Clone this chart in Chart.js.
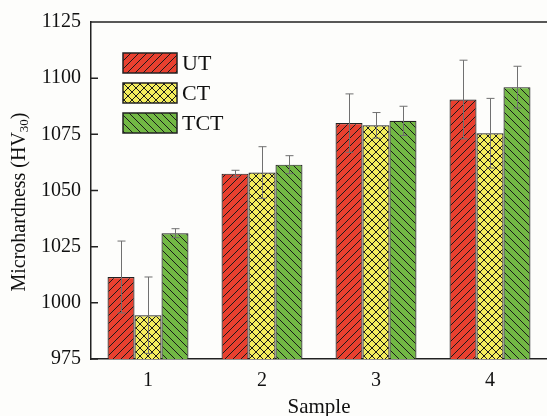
<!DOCTYPE html>
<html>
<head>
<meta charset="utf-8">
<script src="https://cdn.jsdelivr.net/npm/chart.js@4.4.0/dist/chart.umd.min.js"></script>
<style>
  html, body { margin: 0; padding: 0; background: #fdfdfb; }
  #wrap { width: 547px; height: 416px; position: relative; }
</style>
</head>
<body>
<div id="wrap"><canvas id="chart" width="547" height="416"></canvas></div>
<script>
const categories = ['1', '2', '3', '4'];
const seriesNames = ['UT', 'CT', 'TCT'];
const utValues = [1011.5, 1057.5, 1080, 1090.5];
const ctValues = [994.5, 1058, 1079, 1075.5];
const tctValues = [1031, 1061.5, 1081, 1096];
const utErrors = [16, 1.5, 13, 17.5];
const ctErrors = [17, 11.5, 5.7, 15.5];
const tctErrors = [2, 4, 6.5, 9.3];
const yTicks = [975, 1000, 1025, 1050, 1075, 1100, 1125];

const FONT = '"Liberation Serif", "Times New Roman", serif';

function makePattern(bg, kind) {
    const s = 8;
    const c = document.createElement('canvas');
    c.width = s; c.height = s;
    const g = c.getContext('2d');
    g.fillStyle = bg;
    g.fillRect(0, 0, s, s);
    g.strokeStyle = '#1a1a1a';
    g.lineWidth = 1;
    g.beginPath();
    if (kind === 'fwd' || kind === 'cross') {
        g.moveTo(-1, s + 1); g.lineTo(s + 1, -1);
        g.moveTo(-1, 1); g.lineTo(1, -1);
        g.moveTo(s - 1, s + 1); g.lineTo(s + 1, s - 1);
    }
    if (kind === 'back' || kind === 'cross') {
        g.moveTo(-1, -1); g.lineTo(s + 1, s + 1);
        g.moveTo(s - 1, -1); g.lineTo(s + 1, 1);
        g.moveTo(-1, s - 1); g.lineTo(1, s + 1);
    }
    g.stroke();
    return g.createPattern(c, 'repeat');
}

const ctx = document.getElementById('chart').getContext('2d');
const fills = [
    makePattern('#e8402f', 'fwd'),
    makePattern('#f4ee5c', 'cross'),
    makePattern('#72b844', 'back')
];
const errorSets = [utErrors, ctErrors, tctErrors];

const extras = {
    id: 'extras',
    afterDatasetsDraw(chart) {
        const c = chart.ctx;
        const y = chart.scales.y;
        const area = chart.chartArea;
        c.save();
        // error bars
        c.strokeStyle = '#707070';
        c.lineWidth = 1;
        chart.data.datasets.forEach((ds, i) => {
            const meta = chart.getDatasetMeta(i);
            meta.data.forEach((bar, j) => {
                const v = ds.data[j];
                const e = errorSets[i][j];
                const x = Math.round(bar.x) + 0.5;
                const yt = y.getPixelForValue(v + e);
                const yb = y.getPixelForValue(v - e);
                c.beginPath();
                c.moveTo(x, yt); c.lineTo(x, yb);
                c.moveTo(x - 4, yt); c.lineTo(x + 4, yt);
                c.moveTo(x - 4, yb); c.lineTo(x + 4, yb);
                c.stroke();
            });
        });
        // top border and inward ticks
        c.strokeStyle = '#222';
        c.lineWidth = 1.5;
        c.beginPath();
        c.moveTo(area.left, area.top); c.lineTo(area.right, area.top);
        yTicks.forEach(t => {
            const py = y.getPixelForValue(t);
            c.moveTo(area.left, py); c.lineTo(area.left + 7, py);
        });
        c.stroke();
        // legend
        c.font = '22px ' + FONT;
        c.textBaseline = 'middle';
        seriesNames.forEach((name, i) => {
            const lx = 123, ly = 53 + i * 30;
            c.fillStyle = fills[i];
            c.fillRect(lx, ly, 54, 20);
            c.strokeStyle = '#222';
            c.lineWidth = 1.5;
            c.strokeRect(lx, ly, 54, 20);
            c.fillStyle = '#111';
            c.fillText(name, lx + 59, ly + 11);
        });
        // y axis title with subscript
        c.translate(20, 202);
        c.rotate(-Math.PI / 2);
        c.textBaseline = 'middle';
        const main = 'Microhardness (HV';
        const sub = '30';
        const tail = ')';
        c.font = '20px ' + FONT;
        const w1 = c.measureText(main).width;
        const w3 = c.measureText(tail).width;
        c.font = '13px ' + FONT;
        const w2 = c.measureText(sub).width;
        const sx = -(w1 + w2 + w3) / 2;
        c.textAlign = 'left';
        c.font = '20px ' + FONT;
        c.fillText(main, sx, 0);
        c.font = '13px ' + FONT;
        c.fillText(sub, sx + w1, 5);
        c.font = '20px ' + FONT;
        c.fillText(tail, sx + w1 + w2, 0);
        c.restore();
    }
};

new Chart(ctx, {
    type: 'bar',
    data: {
        labels: categories,
        datasets: [
            { label: seriesNames[0], data: utValues, backgroundColor: fills[0] },
            { label: seriesNames[1], data: ctValues, backgroundColor: fills[1] },
            { label: seriesNames[2], data: tctValues, backgroundColor: fills[2] }
        ].map(d => Object.assign(d, {
            borderColor: '#222', borderWidth: 1.2, borderSkipped: false,
            barPercentage: 1, categoryPercentage: 0.71
        }))
    },
    options: {
        responsive: false,
        animation: false,
        layout: { padding: { top: 21, right: 0, left: 0, bottom: 0 } },
        plugins: { legend: { display: false }, tooltip: { enabled: false } },
        scales: {
            x: {
                grid: { display: false, drawTicks: false },
                border: { display: true, color: '#222', width: 1.5 },
                ticks: { color: '#111', font: { family: FONT, size: 20 }, padding: 10 },
                title: { display: true, text: 'Sample', color: '#111', font: { family: FONT, size: 21 }, padding: { top: 0, bottom: -4 } },
                afterFit(s) { s.height = 57; }
            },
            y: {
                min: 975, max: 1125,
                grid: { display: false, drawTicks: false },
                border: { display: true, color: '#222', width: 1.5 },
                ticks: {
                    stepSize: 25, color: '#111', font: { family: FONT, size: 20 }, padding: 10,
                    callback: v => String(v)
                },
                afterFit(s) { s.width = 91; }
            }
        }
    },
    plugins: [extras]
});
</script>
</body>
</html>
